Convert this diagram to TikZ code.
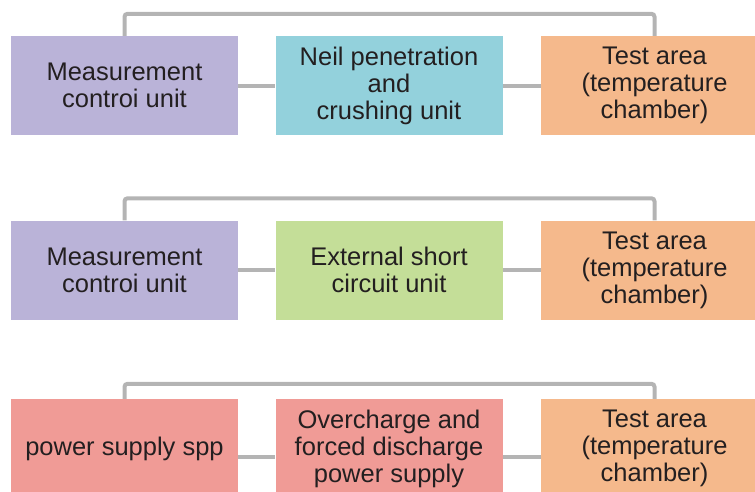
\documentclass[tikz,border=0pt]{standalone}
\usepackage{fontspec}
\setmainfont{Liberation Sans}
\definecolor{measpurple}{HTML}{BAB3D8}
\definecolor{crushcyan}{HTML}{93D1DC}
\definecolor{chamberorange}{HTML}{F5B98C}
\definecolor{shortgreen}{HTML}{C4DE98}
\definecolor{supplypink}{HTML}{F09B96}
\definecolor{wiregray}{HTML}{B4B4B4}
\definecolor{inktext}{HTML}{231F20}
\tikzset{
  unitbox/.style={minimum width=227pt, minimum height=99pt, inner sep=0pt,
    align=center, text=inktext, font=\fontsize{25.5}{27}\selectfont},
  wire/.style={draw=wiregray, line width=4pt},
}

\begin{document}
\begin{tikzpicture}[x=1pt, y=-1pt]
            \useasboundingbox (0,0) rectangle (755,491);
            % row 1: nail penetration
            \node[unitbox, fill=measpurple] (a1) at (124.5,85.5) {Measurement\\controi unit};
            \node[unitbox, fill=crushcyan] (b1) at (389,85.5) {Neil penetration\\and\\crushing unit};
            \node[unitbox, fill=chamberorange] (c1) at (654.5,85.5) {Test area\\(temperature\\chamber)};
            % row 2: external short circuit
            \node[unitbox, fill=measpurple] (a2) at (124.5,270) {Measurement\\controi unit};
            \node[unitbox, fill=shortgreen] (b2) at (389,270) {External short\\circuit unit};
            \node[unitbox, fill=chamberorange] (c2) at (654.5,270) {Test area\\(temperature\\chamber)};
            % row 3: overcharge
            \node[unitbox, fill=supplypink] (a3) at (124.5,448.5) {power supply spp};
            \node[unitbox, fill=supplypink] (b3) at (389,448.5) {Overcharge and\\forced discharge\\power supply};
            \node[unitbox, fill=chamberorange] (c3) at (654.5,448.5) {Test area\\(temperature\\chamber)};
            \foreach \r/\s/\h in {1/0/22,2/0/22,3/-8/15}{
              \draw[wire] ([yshift=\s pt]a\r.east) -- ([yshift=\s pt]b\r.west);
              \draw[wire] ([yshift=\s pt]b\r.east) -- ([yshift=\s pt]c\r.west);
              \draw[wire, rounded corners=3pt] (a\r.north) -- ++(0,-\h) -| (c\r.north);
            }
          \end{tikzpicture}
\end{document}
